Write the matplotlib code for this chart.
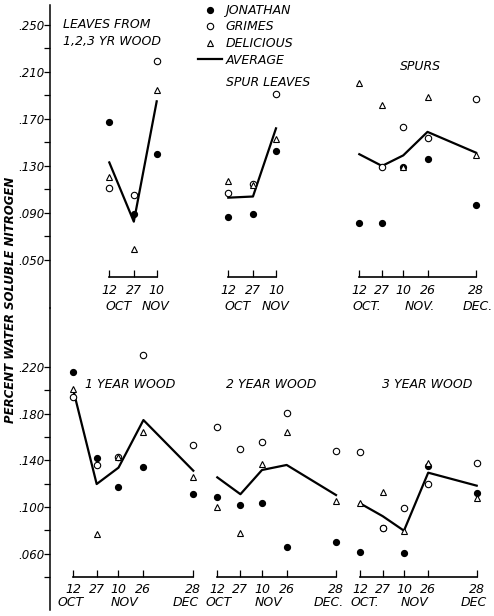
import numpy as np
import matplotlib
matplotlib.use("Agg")
import matplotlib.pyplot as plt
from matplotlib.lines import Line2D
from matplotlib.transforms import blended_transform_factory

# ---------------- data ----------------
# sampling days counted from Oct 12
days_short = [0, 15, 29]            # 12 Oct, 27 Oct, 10 Nov
days_long = [0, 15, 29, 45, 77]     # 12 Oct, 27 Oct, 10 Nov, 26 Nov, 28 Dec
ticks_short = ["12", "27", "10"]
ticks_long = ["12", "27", "10", "26", "28"]

# Leaves from 1,2,3 yr wood
lw_jon = [0.167, 0.089, 0.140]
lw_gri = [0.1115, 0.105, 0.219]
lw_del = [0.121, 0.059, 0.195]
lw_avg = [0.133, 0.0826, 0.185]

# Spur leaves
sl_jon = [0.0863, 0.089, 0.1428]
sl_gri = [0.1073, 0.1144, 0.191]
sl_del = [0.1172, 0.114, 0.1527]
sl_avg = [0.103, 0.104, 0.162]

# Spurs
sp_jon = [0.0818, 0.0818, 0.1294, 0.136, 0.0968]
sp_gri = [None, 0.1294, 0.1635, 0.1535, 0.187]
sp_del = [0.2004, 0.182, 0.129, 0.1885, 0.139]
sp_avg = [0.140, 0.130, 0.139, 0.159, 0.1413]

# 1 year wood
w1_jon = [0.2157, 0.1417, 0.1174, 0.1345, 0.1112]
w1_gri = [0.1938, 0.136, 0.1425, 0.230, 0.1531]
w1_del = [0.2006, 0.0767, 0.143, 0.1644, 0.1254]
w1_avg = [0.200, 0.1197, 0.1337, 0.1744, 0.1311]

# 2 year wood
w2_jon = [0.1089, 0.1018, 0.1038, 0.0656, 0.0699]
w2_gri = [0.1687, 0.1494, 0.1559, 0.1807, 0.1482]
w2_del = [0.0998, 0.0776, 0.1366, 0.1644, 0.1055]
w2_avg = [0.1254, 0.111, 0.1317, 0.136, 0.1103]

# 3 year wood
w3_jon = [0.0619, 0.0819, 0.061, 0.1351, 0.1118]
w3_gri = [0.1474, 0.082, 0.0995, 0.1197, 0.1374]
w3_del = [0.1032, 0.1126, 0.0798, 0.1374, 0.108]
w3_avg = [0.1032, 0.0922, 0.0798, 0.1294, 0.1183]

top_major = [0.250, 0.210, 0.170, 0.130, 0.090, 0.050]
top_minor = [0.230, 0.190, 0.150, 0.110, 0.070]
bot_major = [0.220, 0.180, 0.140, 0.100, 0.060]
bot_minor = [0.200, 0.160, 0.120, 0.080, 0.040]

legend_labels = ["JONATHAN", "GRIMES", "DELICIOUS", "AVERAGE"]
ylabel = "PERCENT WATER SOLUBLE NITROGEN"

# ---------------- layout ----------------
W, H = 494, 616
FONT = dict(family="DejaVu Sans", style="italic")
fig = plt.figure(figsize=(W / 100, H / 100), dpi=100)
fig.patch.set_facecolor("white")


def fx(px):
    return px / W


def fy(py):
    return 1 - py / H


def make_main(top_px, bot_px, ylim, major, minor):
    ax = fig.add_axes([fx(50), fy(bot_px), 0.002, (bot_px - top_px) / H])
    ax.set_ylim(*ylim)
    for s in ["top", "right", "bottom"]:
        ax.spines[s].set_visible(False)
    ax.spines["left"].set_linewidth(1.1)
    ax.set_xticks([])
    ax.set_yticks(major)
    ax.set_yticks(minor, minor=True)
    ax.set_yticklabels([("%.3f" % v)[1:] for v in major], **FONT)
    ax.tick_params(axis="y", which="both", direction="out", length=4,
                   width=0.9, labelsize=8.5, pad=0)
    ax.patch.set_visible(False)
    return ax


top_lim = (0.0091, 0.2670)
bot_lim = (0.0120, 0.2702)
make_main(5, 308, top_lim, top_major, top_minor)
make_main(308, 610, bot_lim, bot_major, bot_minor)


def panel(x0, x1, top_px, bot_px, ylim, yline, days, ticklabels,
          jon, gri, dele, avg, months, month_py, pad):
    ax = fig.add_axes([fx(x0), fy(bot_px), (x1 - x0) / W, (bot_px - top_px) / H])
    ax.set_ylim(*ylim)
    ax.set_xlim(days[0], days[-1])
    ax.patch.set_visible(False)
    ax.yaxis.set_visible(False)
    for s in ["top", "right", "left"]:
        ax.spines[s].set_visible(False)
    ax.spines["bottom"].set_position(("data", yline))
    ax.spines["bottom"].set_linewidth(1.2)
    ax.set_xticks(days)
    ax.set_xticklabels(ticklabels, **FONT)
    ax.tick_params(axis="x", direction="in", length=5, width=0.9,
                   labelsize=9, pad=pad)
    d = np.array(days, dtype=float)
    ax.plot(d, np.array(avg, dtype=float), color="black", lw=1.6,
            clip_on=False, zorder=2)
    ax.plot(d, np.array(jon, dtype=float), "o", color="black", ms=4.2,
            clip_on=False, zorder=3)
    ax.plot(d, np.array(gri, dtype=float), "o", mfc="white", mec="black",
            mew=0.8, ms=4.6, clip_on=False, zorder=3)
    ax.plot(d, np.array(dele, dtype=float), "^", mfc="white", mec="black",
            mew=0.8, ms=4.2, clip_on=False, zorder=3)
    tr = blended_transform_factory(ax.transData, fig.transFigure)
    for name, xd in months:
        ax.text(xd, fy(month_py), name, transform=tr, ha="center",
                va="center", fontsize=9, **FONT)
    return ax


panel(109.3, 156.7, 5, 308, top_lim, 0.0355, days_short, ticks_short,
      lw_jon, lw_gri, lw_del, lw_avg, [("OCT", 5.4), ("NOV", 28)], 306, 5)
panel(228.3, 276, 5, 308, top_lim, 0.0355, days_short, ticks_short,
      sl_jon, sl_gri, sl_del, sl_avg, [("OCT", 5.4), ("NOV", 29)], 306, 5)
panel(359.3, 476, 5, 308, top_lim, 0.0355, days_long, ticks_long,
      sp_jon, sp_gri, sp_del, sp_avg,
      [("OCT.", 5), ("NOV.", 40), ("DEC.", 78)], 306, 5)

panel(73.3, 193.3, 308, 610, bot_lim, 0.0402, days_long, ticks_long,
      w1_jon, w1_gri, w1_del, w1_avg,
      [("OCT", -2), ("NOV", 33), ("DEC", 72)], 602, 4)
panel(217.3, 336, 308, 610, bot_lim, 0.0402, days_long, ticks_long,
      w2_jon, w2_gri, w2_del, w2_avg,
      [("OCT", 1), ("NOV", 33.5), ("DEC.", 72)], 602, 4)
panel(360, 476.7, 308, 610, bot_lim, 0.0402, days_long, ticks_long,
      w3_jon, w3_gri, w3_del, w3_avg,
      [("OCT.", 3.3), ("NOV", 36.3), ("DEC", 75)], 602, 4)

# titles
titles = [("LEAVES FROM", 63, 25, "left"), ("1,2,3 YR WOOD", 63, 41, "left"),
          ("SPUR LEAVES", 268, 82, "center"), ("SPURS", 420, 67, "center"),
          ("1 YEAR WOOD", 130, 385, "center"), ("2 YEAR WOOD", 271, 385, "center"),
          ("3 YEAR WOOD", 427, 385, "center")]
for t, px, py, ha in titles:
    fig.text(fx(px), fy(py), t, ha=ha, va="center", fontsize=9, **FONT)

fig.text(fx(11), fy(300), ylabel, rotation=90, ha="center", va="center",
         fontsize=8.5, weight="bold", **FONT)

# legend
handles = [
    Line2D([], [], ls="none", marker="o", color="black", ms=4.2),
    Line2D([], [], ls="none", marker="o", mfc="white", mec="black", mew=0.8, ms=4.6),
    Line2D([], [], ls="none", marker="^", mfc="white", mec="black", mew=0.8, ms=4.2),
    Line2D([], [], color="black", lw=1.6),
]
leg = fig.legend(handles, legend_labels, loc="upper left",
                 bbox_to_anchor=(fx(198), fy(4)), frameon=False,
                 borderpad=0, borderaxespad=0, handlelength=1.9,
                 handletextpad=0.3, labelspacing=0.28,
                 prop=dict(family="DejaVu Sans", style="italic", size=9))

fig.savefig("out.png", dpi=100, facecolor="white")
